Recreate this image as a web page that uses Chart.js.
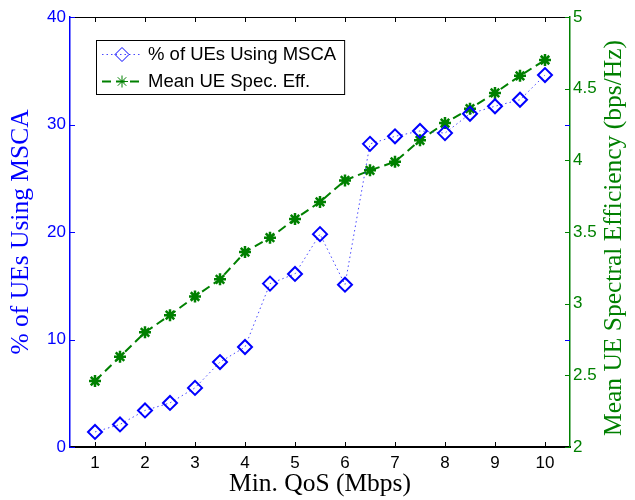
<!DOCTYPE html>
<html>
<head>
<meta charset="utf-8">
<script src="https://cdn.jsdelivr.net/npm/chart.js@4.4.1/dist/chart.umd.min.js"></script>
<style>
  html, body { margin: 0; padding: 0; background: #fff; }
  canvas { display: block; }
</style>
</head>
<body>
<canvas id="qosChart" width="635" height="500"></canvas>
<script>
// data
const qos = [1, 1.5, 2, 2.5, 3, 3.5, 4, 4.5, 5, 5.5, 6, 6.5, 7, 7.5, 8, 8.5, 9, 9.5, 10];
const pctMsca = [1.4, 2.1, 3.4, 4.1, 5.5, 7.9, 9.3, 15.2, 16.1, 19.8, 15.1, 28.2, 28.9, 29.4, 29.2, 31.0, 31.7, 32.3, 34.6];
const specEff = [2.46, 2.63, 2.80, 2.92, 3.05, 3.17, 3.36, 3.46, 3.59, 3.71, 3.86, 3.93, 3.99, 4.14, 4.26, 4.36, 4.47, 4.59, 4.70];
const xTicks = [1, 2, 3, 4, 5, 6, 7, 8, 9, 10];
const seriesLabels = ['% of UEs Using MSCA', 'Mean UE Spec. Eff.'];
const xTitle = 'Min. QoS (Mbps)';
const leftTitle = '% of UEs Using MSCA';
const rightTitle = 'Mean UE Spectral Efficiency (bps/Hz)';

const BLUE = '#0000ff';
const GREEN = '#008000';
const SANS = '"Liberation Sans", Arial, sans-serif';
const SERIF = '"Liberation Serif", "Times New Roman", serif';

// inward tick marks, top frame line, right-hand title
const axesBox = {
  id: 'axesBox',
  afterDraw(chart) {
    const { ctx, chartArea: a, scales } = chart;
    const tl = 5;
    ctx.save();
    ctx.lineWidth = 1;

    ctx.strokeStyle = '#000';
    ctx.beginPath();
    ctx.moveTo(a.left, a.top + 0.5);
    ctx.lineTo(a.right, a.top + 0.5);
    scales.x.ticks.forEach(t => {
      const px = Math.round(scales.x.getPixelForValue(t.value)) + 0.5;
      ctx.moveTo(px, a.bottom);
      ctx.lineTo(px, a.bottom - tl);
      ctx.moveTo(px, a.top);
      ctx.lineTo(px, a.top + tl);
    });
    ctx.stroke();

    ctx.strokeStyle = BLUE;
    ctx.beginPath();
    scales.y.ticks.forEach(t => {
      const py = Math.round(scales.y.getPixelForValue(t.value)) + 0.5;
      ctx.moveTo(a.left, py);
      ctx.lineTo(a.left + tl, py);
      ctx.moveTo(a.right, py);
      ctx.lineTo(a.right - tl, py);
    });
    ctx.stroke();

    ctx.strokeStyle = GREEN;
    ctx.beginPath();
    scales.y2.ticks.forEach(t => {
      const py = Math.round(scales.y2.getPixelForValue(t.value)) + 0.5;
      ctx.moveTo(a.right, py);
      ctx.lineTo(a.right - tl, py);
    });
    ctx.stroke();

    ctx.fillStyle = GREEN;
    ctx.font = '25.5px ' + SERIF;
    ctx.textAlign = 'center';
    ctx.textBaseline = 'middle';
    ctx.translate(614, (a.top + a.bottom) / 2 + 6);
    ctx.rotate(-Math.PI / 2);
    ctx.fillText(rightTitle, 0, 0);
    ctx.restore();
  }
};

// boxed legend inside the plot, MATLAB style
const boxLegend = {
  id: 'boxLegend',
  afterDraw(chart) {
    const { ctx, chartArea: a } = chart;
    const left = a.left + 26, top = a.top + 23;
    const rowH = 27, sampleW = 42, textX = left + sampleW + 10;
    ctx.save();
    ctx.font = '18.5px ' + SANS;
    const textW = Math.max(...seriesLabels.map(s => ctx.measureText(s).width));
    const w = textX - left + textW + 8, h = rowH * seriesLabels.length;
    ctx.fillStyle = '#fff';
    ctx.fillRect(left, top, w, h);
    ctx.strokeStyle = '#000';
    ctx.lineWidth = 1;
    ctx.strokeRect(left + 0.5, top + 0.5, w, h);

    chart.data.datasets.forEach((ds, i) => {
      const cy = top + rowH * i + rowH / 2 + 1;
      ctx.save();
      ctx.strokeStyle = ds.borderColor;
      ctx.lineWidth = ds.borderWidth;
      ctx.setLineDash(ds.borderDash);
      ctx.beginPath();
      ctx.moveTo(left + 6, cy);
      ctx.lineTo(left + 6 + sampleW - 2, cy);
      ctx.stroke();
      ctx.restore();
      ctx.save();
      ctx.strokeStyle = ds.pointBorderColor;
      ctx.fillStyle = ds.pointBackgroundColor;
      Chart.helpers.drawPoint(ctx, {
        pointStyle: ds.pointStyle,
        radius: ds.pointRadius,
        borderWidth: ds.pointBorderWidth,
        rotation: 0
      }, left + 6 + (sampleW - 2) / 2, cy);
      ctx.restore();
      ctx.fillStyle = '#000';
      ctx.textAlign = 'left';
      ctx.textBaseline = 'middle';
      ctx.fillText(ds.label, textX, cy);
    });
    ctx.restore();
  }
};

const ctx = document.getElementById('qosChart').getContext('2d');
const chart = new Chart(ctx, {
  type: 'line',
  data: {
    datasets: [{
      label: seriesLabels[0],
      data: qos.map((q, i) => ({ x: q, y: pctMsca[i] })),
      yAxisID: 'y',
      borderColor: 'rgba(40,40,255,0.85)',
      borderWidth: 1,
      borderDash: [1.5, 3],
      pointStyle: 'rectRot',
      pointRadius: 7,
      pointBorderWidth: 2,
      pointBorderColor: BLUE,
      pointBackgroundColor: 'rgba(0,0,0,0)',
      fill: false,
      tension: 0
    }, {
      label: seriesLabels[1],
      data: qos.map((q, i) => ({ x: q, y: specEff[i] })),
      yAxisID: 'y2',
      borderColor: GREEN,
      borderWidth: 2,
      borderDash: [9, 5],
      pointStyle: 'star',
      pointRadius: 6,
      pointBorderWidth: 2.5,
      pointBorderColor: GREEN,
      pointBackgroundColor: GREEN,
      fill: false,
      tension: 0
    }]
  },
  options: {
    responsive: false,
    animation: false,
    layout: { padding: { top: 17, left: 0, right: 0, bottom: 0 } },
    plugins: {
      legend: { display: false },
      tooltip: { enabled: false }
    },
    scales: {
      x: {
        type: 'linear',
        min: 0.5,
        max: 10.5,
        afterBuildTicks: scale => { scale.ticks = xTicks.map(v => ({ value: v })); },
        afterFit: scale => { scale.height = 53; },
        grid: { display: false, drawTicks: false },
        border: { display: true, color: '#000', width: 2 },
        ticks: {
          padding: 6,
          color: '#000',
          maxRotation: 0,
          font: { family: SANS, size: 17 },
          callback: v => String(v)
        },
        title: {
          display: true,
          text: xTitle,
          color: '#000',
          font: { family: SERIF, size: 25.5 },
          padding: { top: 0, bottom: 0 }
        }
      },
      y: {
        position: 'left',
        min: 0,
        max: 40,
        afterFit: scale => { scale.width = 70; },
        grid: { display: false, drawTicks: false },
        border: { display: true, color: BLUE, width: 1.5 },
        ticks: {
          stepSize: 10,
          padding: 4,
          color: BLUE,
          font: { family: SANS, size: 17 }
        },
        title: {
          display: true,
          text: leftTitle,
          color: BLUE,
          font: { family: SERIF, size: 25.5 },
          padding: { top: 6, bottom: 0 }
        }
      },
      y2: {
        position: 'right',
        min: 2,
        max: 5,
        afterFit: scale => { scale.width = 65; },
        grid: { display: false, drawTicks: false },
        border: { display: true, color: GREEN, width: 1.5 },
        ticks: {
          stepSize: 0.5,
          padding: 3,
          color: GREEN,
          font: { family: SANS, size: 17 },
          callback: v => String(v)
        }
      }
    }
  },
  plugins: [axesBox, boxLegend]
});
</script>
</body>
</html>
